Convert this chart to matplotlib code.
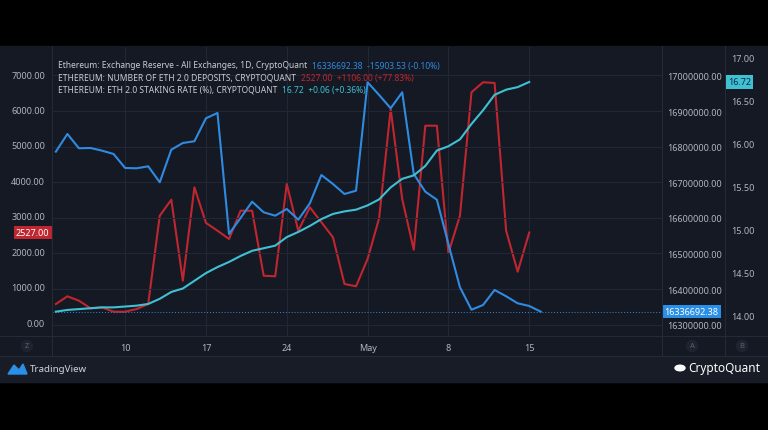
import matplotlib.pyplot as plt
import matplotlib.patches as mpatches
import matplotlib.transforms as mtrans
import pandas as pd

plt.rcParams['font.family'] = ['Noto Sans', 'DejaVu Sans']

# daily data, 2022-04-04 .. 2022-05-16
dates = pd.date_range('2022-04-04', '2022-05-16', freq='D')

reserve = [16786000, 16835700, 16795500, 16796400, 16788800, 16779500, 16740200,
           16739300, 16744900, 16700000, 16791600, 16810400, 16815200, 16879800,
           16894700, 16554800, 16599700, 16645500, 16615700, 16606200, 16625000,
           16594900, 16641000, 16720500, 16695200, 16667100, 16676400, 16980900,
           16945200, 16907900, 16952800, 16723300, 16673600, 16651100, 16526700,
           16405100, 16342100, 16355300, 16397500, 16379800, 16360100, 16352596,
           16336692.38]

deposits = [508, 726, 602, 387, 415, 291, 291, 367, 508, 3003, 3455, 1167, 3805,
            2800, 2579, 2345, 3144, 3144, 1308, 1291, 3899, 2579, 3240, 2817, 2393,
            1074, 1009, 1780, 2930, 6017, 3475, 2042, 5545, 5545, 1949, 3003, 6489,
            6772, 6752, 2579, 1421, 2527]

staking = [14.04, 14.06, 14.07, 14.08, 14.09, 14.09, 14.10, 14.11, 14.13, 14.19,
           14.27, 14.31, 14.40, 14.49, 14.56, 14.62, 14.69, 14.75, 14.78, 14.81,
           14.91, 14.97, 15.04, 15.12, 15.18, 15.21, 15.23, 15.28, 15.35, 15.49,
           15.59, 15.63, 15.74, 15.92, 15.97, 16.05, 16.23, 16.39, 16.57, 16.63,
           16.66, 16.72]

left_ticks = [0, 1000, 2000, 3000, 4000, 5000, 6000, 7000]
reserve_ticks = [16300000, 16400000, 16500000, 16600000, 16700000, 16800000,
                 16900000, 17000000]
rate_ticks = [14.0, 14.5, 15.0, 15.5, 16.0, 16.5, 17.0]
x_ticks = ['2022-04-10', '2022-04-17', '2022-04-24', '2022-05-01', '2022-05-08', '2022-05-15']
x_labels = ['10', '17', '24', 'May', '8', '15']

BG = '#151924'
GRID = '#232838'
TXT = '#b2b5be'
BLUE = '#2f8be0'
RED = '#c0262f'
TEAL = '#3fc1d3'

W, H = 768, 431
fig = plt.figure(figsize=(W / 100, H / 100), dpi=100, facecolor='black')

def fx(px):
    return px / W

def fy(py):
    return 1 - py / H

# dark panel
fig.patches.append(mpatches.Rectangle((0, fy(383)), 1, fy(47) - fy(383),
                                      transform=fig.transFigure, color=BG, zorder=-2))
fig.patches.append(mpatches.Rectangle((0, fy(383)), 1, fy(357) - fy(383),
                                      transform=fig.transFigure, color='#181c27', zorder=-1))

ax = fig.add_axes([fx(52), fy(337), fx(662) - fx(52), fy(48) - fy(337)])
ax.set_facecolor(BG)
ax2 = ax.twinx()
ax3 = ax.twinx()

ax.plot(dates[:-1], deposits, color=RED, lw=1.5, zorder=3)
ax2.plot(dates, reserve, color=BLUE, lw=1.5, zorder=3)
ax3.plot(dates[:-1], staking, color=TEAL, lw=1.5, zorder=3)

ax.set_ylim(-395, 7768)
ax2.set_ylim(16268260, 17080000)
ax3.set_ylim(13.756, 17.128)
x0 = pd.Timestamp('2022-04-04')
ax.set_xlim(x0 - pd.Timedelta(hours=8), x0 + pd.Timedelta(days=52.5))

ax.set_yticks(left_ticks)
ax.set_yticklabels([f'{v:.2f}' for v in left_ticks])
ax2.set_yticks(reserve_ticks)
ax2.set_yticklabels([f'{v:.2f}' for v in reserve_ticks])
ax3.set_yticks(rate_ticks)
ax3.set_yticklabels([f'{v:.2f}' for v in rate_ticks])
ax.set_xticks(pd.to_datetime(x_ticks))
ax.set_xticklabels(x_labels)

ax.tick_params(axis='y', length=0, pad=5, labelsize=6.5, labelcolor=TXT)
ax.tick_params(axis='x', length=0, pad=5, labelsize=6.5, labelcolor=TXT)
ax2.tick_params(axis='y', length=0, pad=4, labelsize=6.5, labelcolor=TXT)
ax3.tick_params(axis='y', length=0, pad=50, labelsize=6.5, labelcolor=TXT)

ax.grid(axis='x', color=GRID, lw=0.7)
ax2.grid(axis='y', color=GRID, lw=0.7)
ax2.set_zorder(ax.get_zorder() + 1)
ax3.set_zorder(ax.get_zorder() + 2)
for a in (ax2, ax3):
    a.patch.set_visible(False)
for a in (ax, ax2, ax3):
    for s in a.spines.values():
        s.set_visible(False)

# price line of last reserve value
ax2.axhline(reserve[-1], color=BLUE, lw=0.7, ls=(0, (1, 2)), zorder=2)

# separators
for px in (52, 662, 725):
    fig.add_artist(plt.Line2D([fx(px), fx(px)], [fy(357), fy(47)], color='#262a36', lw=0.8))
fig.add_artist(plt.Line2D([0, 1], [fy(337), fy(337)], color='#262a36', lw=0.8))
fig.add_artist(plt.Line2D([0, 1], [fy(357), fy(357)], color='#262a36', lw=0.8))

# value badges
ax.text(-0.004, deposits[-1], f'{deposits[-1]:.2f}', transform=ax.get_yaxis_transform(),
        ha='right', va='center', fontsize=6.5, color='white', fontweight='bold',
        bbox=dict(boxstyle='square,pad=0.25', fc=RED, ec='none'))
ax2.text(1.004, reserve[-1], f'{reserve[-1]:.2f}', transform=ax2.get_yaxis_transform(),
         ha='left', va='center', fontsize=6.5, color='white',
         bbox=dict(boxstyle='square,pad=0.25', fc='#2a8fe6', ec='none'))
ax3.text(fx(728), staking[-1], f'{staking[-1]:.2f}',
         transform=mtrans.blended_transform_factory(fig.transFigure, ax3.transData),
         ha='left', va='center', fontsize=6.5, color='#0d2a45',
         bbox=dict(boxstyle='square,pad=0.25', fc=TEAL, ec='none'))

# legend lines
legend = [
    ('Ethereum: Exchange Reserve - All Exchanges, 1D, CryptoQuant',
     '16336692.38  -15903.53 (-0.10%)', BLUE),
    ('ETHEREUM: NUMBER OF ETH 2.0 DEPOSITS, CRYPTOQUANT',
     '2527.00  +1106.00 (+77.83%)', RED),
    ('ETHEREUM: ETH 2.0 STAKING RATE (%), CRYPTOQUANT',
     '16.72  +0.06 (+0.36%)', TEAL),
]
renderer = fig.canvas.get_renderer()
for i, (name, val, col) in enumerate(legend):
    yy = fy(66 + 12 * i)
    t = fig.text(fx(58), yy, name, fontsize=6.1, color='#c9ccd4', va='center')
    bb = t.get_window_extent(renderer)
    fig.text(bb.x1 / W + fx(5), yy, val, fontsize=6.1, color=col, va='center')

# scale buttons
for px, lab in ((27, 'Z'), (692, 'A'), (742, 'B')):
    fig.text(fx(px), fy(347), lab, fontsize=5.5, color='#5d606b', ha='center', va='center',
             bbox=dict(boxstyle='circle,pad=0.35', fc='#1f2330', ec='none'))

# footer
logo = mpatches.Polygon([[fx(8), fy(375)], [fx(14), fy(366)], [fx(19), fy(371)],
                         [fx(23), fy(365)], [fx(27), fy(375)]],
                        closed=True, transform=fig.transFigure, color='#2a8fe6')
fig.patches.append(logo)
fig.text(fx(30), fy(370), 'TradingView', fontsize=7, color='#d1d4dc', va='center')
fig.text(fx(760), fy(369), 'CryptoQuant', fontsize=8.5, color='white', va='center', ha='right')
fig.patches.append(mpatches.Circle((fx(680), fy(369)), 0.0065, transform=fig.transFigure,
                                   color='white'))

fig.savefig('out.png', dpi=100, facecolor='black')
